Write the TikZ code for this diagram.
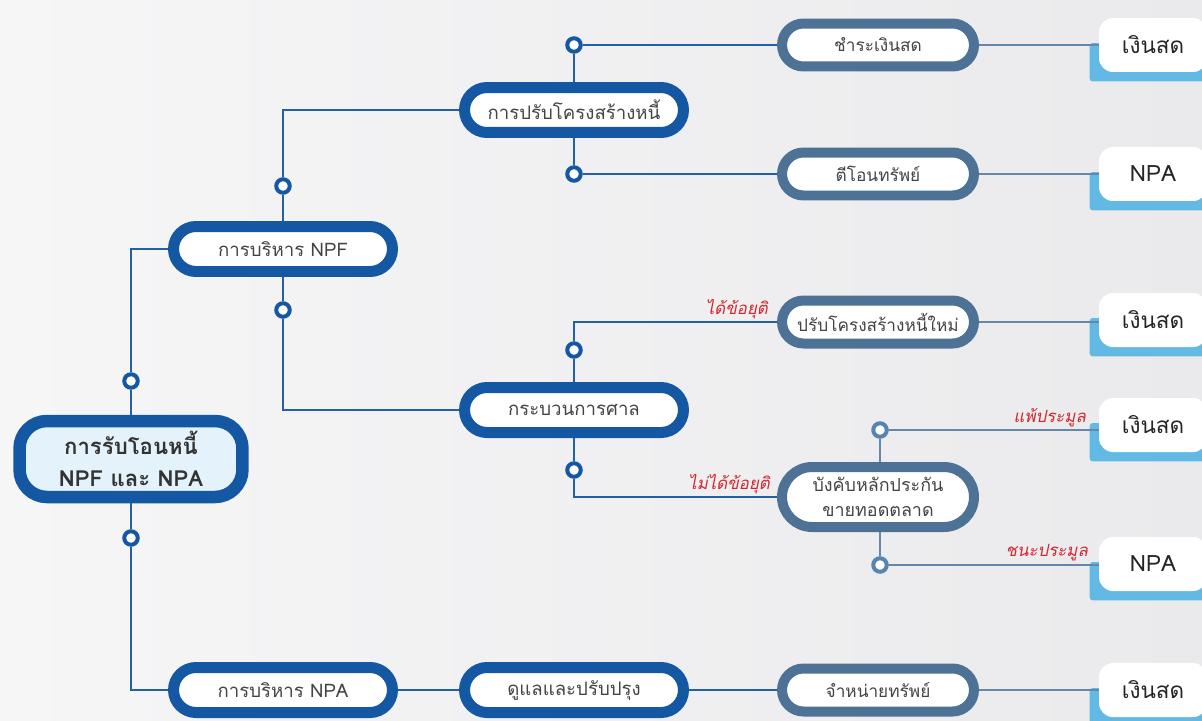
\documentclass[tikz,border=0pt]{standalone}
\usepackage{fontspec}
\newfontfamily\thai[Script=Thai]{Loma}
\newfontfamily\thaiit[Script=Thai,FakeSlant=0.2]{Loma}
\usetikzlibrary{shadows,calc,backgrounds}
\definecolor{dkblue}{RGB}{20,88,164}
\definecolor{slate}{RGB}{78,114,150}
\definecolor{lineblue}{RGB}{36,96,165}
\definecolor{linesl}{RGB}{100,135,170}
\definecolor{ringsl}{RGB}{88,132,176}
\definecolor{lblue}{RGB}{98,186,228}
\definecolor{rootfill}{RGB}{228,242,251}
\definecolor{redlbl}{RGB}{212,38,46}
\definecolor{txt}{RGB}{68,68,70}
\definecolor{bgl}{RGB}{246,246,247}
\definecolor{bgr}{RGB}{234,234,236}
\begin{document}
\begin{tikzpicture}[x=0.02cm,y=-0.02cm,
  boxbase/.style={rectangle, fill=white, text=txt, inner sep=0pt,
    drop shadow={opacity=0.22, shadow xshift=0cm, shadow yshift=-0.07cm},
    font=\thai\fontsize{10.6}{13}\selectfont},
  dkbox/.style={boxbase, draw=dkblue, line width=0.22cm, minimum width=4.38cm,
    minimum height=0.9cm, rounded corners=0.45cm},
  slbox/.style={boxbase, draw=slate, line width=0.2cm, minimum width=3.84cm,
    minimum height=0.86cm, rounded corners=0.43cm, font=\thai\fontsize{9.8}{12}\selectfont},
  rootbox/.style={boxbase, draw=dkblue, line width=0.25cm, fill=rootfill,
    minimum width=4.46cm, minimum height=1.52cm, rounded corners=0.55cm,
    align=center, text=black!80, font=\thai\bfseries\fontsize{12.6}{18}\selectfont},
  resbox/.style={rectangle, fill=white, rounded corners=0.28cm, minimum width=2.16cm,
    minimum height=1.08cm, inner sep=0pt, text=black!85,
    font=\thai\fontsize{12.8}{14}\selectfont},
  dring/.style={circle, draw=dkblue, fill=white, line width=0.08cm,
    minimum size=0.27cm, inner sep=0pt},
  sring/.style={dring, draw=ringsl},
  dline/.style={draw=lineblue, line width=0.045cm},
  sline/.style={draw=linesl, line width=0.035cm},
  lbl/.style={text=redlbl, font=\thaiit\fontsize{9.6}{12}\selectfont, inner sep=1pt, anchor=east}
]
\useasboundingbox (0,0) rectangle (1202,720);
\clip (0,0) rectangle (1202,720);
\begin{scope}[on background layer]
  \shade[left color=bgl, right color=bgr] (0,0) rectangle (1202,720);
\end{scope}

% main boxes
\node[rootbox] (root) at (131,459) {การรับโอนหนี้\\NPF และ NPA};
\node[dkbox] (npf) at (283,249) {การบริหาร NPF};
\node[dkbox] (restr) at (574,110) {การปรับโครงสร้างหนี้};
\node[dkbox] (court) at (574,410) {กระบวนการศาล};
\node[dkbox] (npa) at (283,690) {การบริหาร NPA};
\node[dkbox] (care) at (574,690) {ดูแลและปรับปรุง};
\node[slbox] (pay) at (878,45) {ชำระเงินสด};
\node[slbox] (transfer) at (878,174) {ตีโอนทรัพย์};
\node[slbox] (newr) at (878,322) {ปรับโครงสร้างหนี้ใหม่};
\node[slbox, minimum height=1.2cm, rounded corners=0.6cm, align=center,
  font=\thai\fontsize{10.2}{14}\selectfont] (enf) at (878,497) {บังคับหลักประกัน\\ขายทอดตลาด};
\node[slbox] (sell) at (878,690) {จำหน่ายทรัพย์};

% result boxes
\node[resbox] (r1) at (1153,45) {เงินสด};
\node[resbox] (r2) at (1153,174) {NPA};
\node[resbox] (r3) at (1153,320) {เงินสด};
\node[resbox] (r4) at (1153,425) {เงินสด};
\node[resbox] (r5) at (1153,564) {NPA};
\node[resbox] (r6) at (1153,690) {เงินสด};
\begin{scope}[on background layer]
  \foreach \r in {r1,r2,r3,r4,r5,r6}
    \fill[lblue, rounded corners=0.06cm] ($(\r.west)+(-9,-2)$) rectangle ($(\r.south east)+(0,9)$);
\end{scope}

% rings
\node[dring] (c1) at (131,381) {};
\node[dring] (c2) at (131,538) {};
\node[dring] (c3) at (283,186) {};
\node[dring] (c4) at (283,310) {};
\node[dring] (c5) at (574,45) {};
\node[dring] (c6) at (574,174) {};
\node[dring] (c7) at (574,350) {};
\node[dring] (c8) at (574,470) {};
\node[sring] (c9) at (880,430) {};
\node[sring] (c10) at (880,565) {};

% connectors
\draw[dline] (root.north) -- (c1);
\draw[dline] (c1) |- (npf.west);
\draw[dline] (root.south) -- (c2);
\draw[dline] (c2) |- (npa.west);
\draw[dline] (npf.north) -- (c3);
\draw[dline] (c3) |- (restr.west);
\draw[dline] (npf.south) -- (c4);
\draw[dline] (c4) |- (court.west);
\draw[dline] (restr.north) -- (c5);
\draw[dline] (c5) -- (pay.west);
\draw[dline] (restr.south) -- (c6);
\draw[dline] (c6) -- (transfer.west);
\draw[dline] (court.north) -- (c7);
\draw[dline] (c7) |- (newr.west);
\draw[dline] (court.south) -- (c8);
\draw[dline] (c8) |- (enf.west);
\draw[dline] (npa.east) -- (care.west);
\draw[dline] (care.east) -- (sell.west);
\draw[sline] (c9) -- (c9 |- enf.north);
\draw[sline] (c10) -- (c10 |- enf.south);
\draw[sline] (c9) -- (c9 -| r4.west);
\draw[sline] (c10) -- (c10 -| r5.west);
\draw[sline] (pay.east) -- (r1.west);
\draw[sline] (transfer.east) -- (r2.west);
\draw[sline] (newr.east) -- (newr.east -| r3.west);
\draw[sline] (sell.east) -- (r6.west);

% labels
\node[lbl] (l1) at (770,309) {ได้ข้อยุติ};
\node[lbl] (l2) at (772,484) {ไม่ได้ข้อยุติ};
\node[lbl] (l3) at (1088,418) {แพ้ประมูล};
\node[lbl] (l4) at (1090,553) {ชนะประมูล};
\end{tikzpicture}
\end{document}
